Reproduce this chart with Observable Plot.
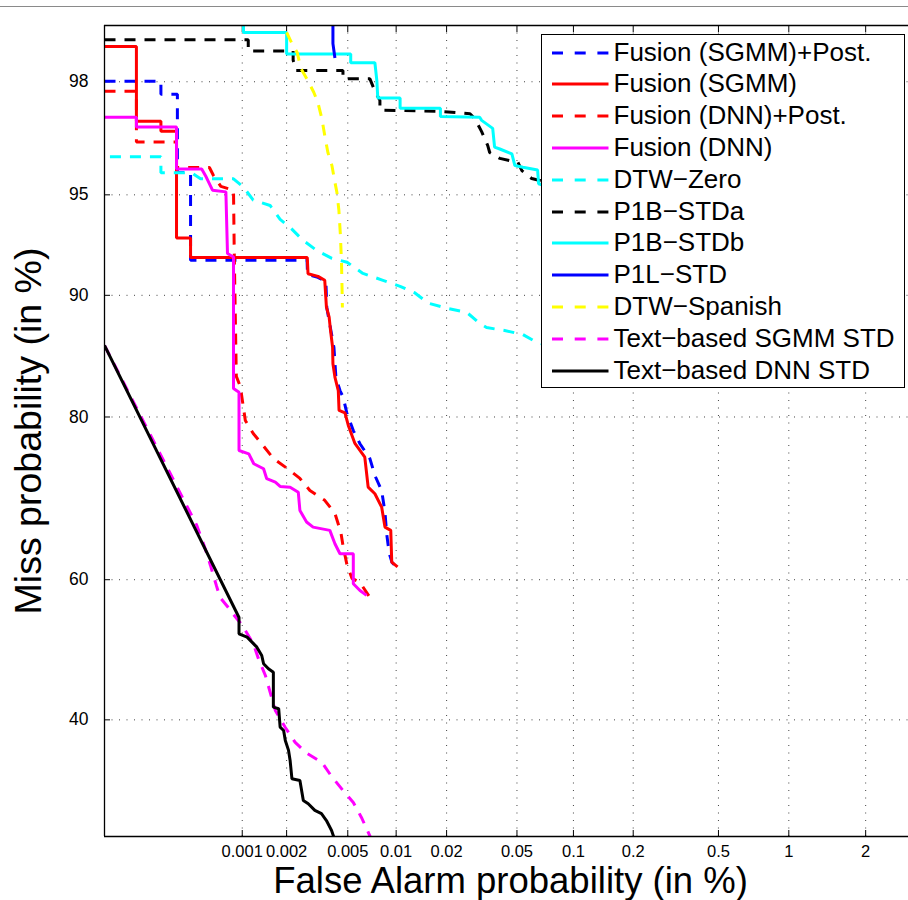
<!DOCTYPE html>
<html>
<head>
<meta charset="utf-8">
<script src="https://cdn.jsdelivr.net/npm/d3@7"></script>
<script src="https://cdn.jsdelivr.net/npm/@observablehq/plot@0.6"></script>
<style>
  body { margin: 0; background: #fff; font-family: "Liberation Sans", Arial, Helvetica, sans-serif; }
  #wrap { position: relative; width: 908px; height: 900px; overflow: hidden; background: #fff; }
  #topline { position: absolute; left: 0; top: 6px; width: 908px; height: 1px; background: #8a8a8a; }
  #legend { position: absolute; left: 541px; top: 34px; width: 364px; height: 354px; box-sizing: border-box;
            border: 1.5px solid #000; background: #fff; }
  .row { position: absolute; left: 0; height: 31.8px; width: 100%; }
  .row svg { position: absolute; left: 9.5px; top: 0; }
  .row span { position: absolute; left: 71.5px; top: 0; line-height: 31.8px; font-size: 26px; white-space: nowrap; color: #000; }
</style>
</head>
<body>
<div id="wrap">
  <div id="chart"></div>
  <div id="topline"></div>
  <div id="legend"></div>
</div>
<script>
// ---- data: [False alarm %, Miss %] ----
const fusionSgmmPost = [[0.0001,98.01],[0.000264,98.01],[0.000264,97.77],[0.000348,97.77],[0.000348,95.78],[0.000433,95.78],[0.000433,92.05],[0.00273,92.05],[0.00275,91.26],[0.00321,91.09],[0.00362,90.86],[0.00367,89.21],[0.0039,87.58],[0.00408,86.28],[0.0042,83.76],[0.00446,82.57],[0.00468,81.92],[0.00492,80.46],[0.00542,78.60],[0.00597,77.18],[0.00689,75.52],[0.0074,73.57],[0.00815,71.77],[0.00854,69.06],[0.00875,66.26],[0.00908,63.58],[0.00944,62.39],[0.0104,61.42]];
const fusionSgmm = [[0.0001,98.54],[0.000174,98.54],[0.000174,97.20],[0.000264,97.20],[0.000264,96.96],[0.000343,96.96],[0.000343,93.17],[0.000433,93.17],[0.000433,92.19],[0.00274,92.19],[0.00277,91.30],[0.00322,91.15],[0.00356,90.92],[0.00365,89.23],[0.0038,88.55],[0.00388,87.58],[0.0040,86.30],[0.00402,84.94],[0.00414,83.79],[0.00435,82.57],[0.0044,80.66],[0.0048,80.41],[0.00504,79.13],[0.00555,77.22],[0.0064,75.70],[0.00672,72.17],[0.0074,71.37],[0.00815,69.70],[0.00854,67.13],[0.00927,66.70],[0.0094,62.43],[0.0102,61.77]];
const fusionDnnPost = [[0.0001,97.83],[0.000174,97.83],[0.000174,96.68],[0.000343,96.68],[0.000343,95.94],[0.00059,95.94],[0.00063,95.68],[0.00071,95.31],[0.00087,95.17],[0.00088,92.56],[0.00091,83.85],[0.00097,82.94],[0.00105,79.65],[0.00119,78.29],[0.00139,76.99],[0.00163,75.55],[0.00202,74.39],[0.00245,73.22],[0.00285,71.77],[0.00356,70.55],[0.00414,68.90],[0.00452,66.43],[0.00466,64.70],[0.00495,61.98],[0.00532,60.18],[0.00597,59.62],[0.00689,57.50]];
const fusionDnn = [[0.0001,97.29],[0.000174,97.29],[0.000174,97.06],[0.000343,97.06],[0.000343,95.89],[0.00052,95.89],[0.00056,95.63],[0.00062,95.17],[0.00077,95.11],[0.00079,92.40],[0.00087,92.22],[0.00087,82.76],[0.00095,82.41],[0.00095,76.44],[0.00111,76.07],[0.0012,74.94],[0.0014,74.36],[0.00147,73.19],[0.00168,72.78],[0.00181,72.26],[0.00211,72.17],[0.00239,71.56],[0.00245,69.28],[0.00271,67.79],[0.00299,67.13],[0.00384,66.70],[0.00414,64.93],[0.00446,63.58],[0.00542,63.58],[0.00542,59.44],[0.00597,58.49],[0.00657,57.79]];
const dtwZero = [[0.00011,96.27],[0.000264,96.27],[0.000264,95.77],[0.00044,95.77],[0.00051,95.57],[0.00087,95.57],[0.00102,95.28],[0.00119,94.80],[0.00155,94.59],[0.00181,94.02],[0.00215,93.61],[0.00257,93.06],[0.00316,92.56],[0.00396,92.15],[0.00495,91.94],[0.00623,91.32],[0.0083,90.92],[0.01057,90.56],[0.013,90.15],[0.0156,89.49],[0.0203,89.14],[0.0262,88.87],[0.031,88.10],[0.0339,87.80],[0.0428,87.58],[0.0539,87.28],[0.064,86.68],[0.0849,86.20]];
const p1bStda = [[0.0001,98.63],[0.0011,98.63],[0.0011,98.48],[0.00221,98.48],[0.00221,98.35],[0.00231,98.19],[0.00466,98.19],[0.00466,98.05],[0.00689,98.05],[0.0074,97.83],[0.00795,97.65],[0.00795,97.45],[0.0184,97.42],[0.0273,97.37],[0.0291,97.26],[0.0318,96.95],[0.0344,96.59],[0.0353,96.39],[0.0402,96.22],[0.0506,96.10],[0.0532,95.84],[0.0601,95.58],[0.0849,95.35]];
const p1bStdb = [[0.00102,99.5],[0.00102,98.72],[0.002,98.72],[0.002,98.44],[0.00522,98.44],[0.00522,98.31],[0.0074,98.31],[0.00761,98.02],[0.00771,97.70],[0.01057,97.70],[0.01057,97.49],[0.0184,97.49],[0.0184,97.31],[0.031,97.29],[0.0318,97.22],[0.0367,97.03],[0.0376,96.54],[0.0402,96.49],[0.0469,96.35],[0.0487,96.0],[0.0539,95.95],[0.0647,95.86],[0.0655,95.40],[0.0849,95.17]];
const p1lStd = [[0.00402,99.5],[0.00402,98.58],[0.00414,98.38]];
const dtwSpanish = [[0.002,98.72],[0.00221,98.55],[0.00235,98.46],[0.00249,98.22],[0.00276,98.02],[0.00302,97.81],[0.00321,97.61],[0.00341,97.26],[0.00356,96.85],[0.00373,96.39],[0.00396,96.0],[0.00414,95.45],[0.00426,95.10],[0.00439,94.39],[0.00449,93.29],[0.00456,91.94],[0.0046,90.33],[0.00462,89.2]];
const textSgmm = [[0.0001,86.44],[0.00048,67.35],[0.00055,64.30],[0.0006,61.98],[0.00066,59.20],[0.0007,57.51],[0.0008,56.08],[0.00087,55.08],[0.00099,53.64],[0.00119,50.91],[0.00129,48.75],[0.00144,46.30],[0.00168,41.32],[0.00196,38.94],[0.00228,36.88],[0.00273,35.40],[0.00341,34.19],[0.0039,32.48],[0.00466,30.55],[0.00542,29.05],[0.0061,27.22],[0.0070,24.76]];
const textDnn = [[0.0001,86.44],[0.00095,54.65],[0.00095,52.30],[0.00108,51.82],[0.00126,50.38],[0.00136,49.18],[0.0014,47.98],[0.00151,47.26],[0.00163,46.77],[0.00163,41.78],[0.00177,41.56],[0.00181,38.98],[0.00191,38.52],[0.00196,37.15],[0.00206,35.8],[0.00211,34.45],[0.00217,32.04],[0.00245,31.82],[0.00258,29.29],[0.00278,28.89],[0.00307,28.07],[0.00339,27.67],[0.00365,26.85],[0.00394,25.68],[0.0041,24.75]];

const seriesNames = ["Fusion (SGMM)+Post.","Fusion (SGMM)","Fusion (DNN)+Post.","Fusion (DNN)","DTW\u2212Zero","P1B\u2212STDa","P1B\u2212STDb","P1L\u2212STD","DTW\u2212Spanish","Text\u2212based SGMM STD","Text\u2212based DNN STD"];
const seriesData = [fusionSgmmPost, fusionSgmm, fusionDnnPost, fusionDnn, dtwZero, p1bStda, p1bStdb, p1lStd, dtwSpanish, textSgmm, textDnn];
const seriesColors = ["#0000ff","#ff0000","#ff0000","#ff00ff","#00ffff","#000000","#00ffff","#0000ff","#ffff00","#ff00ff","#000000"];
const seriesDashed = [true,false,true,false,true,true,false,false,true,true,false];

const xTicks = [0.001,0.002,0.005,0.01,0.02,0.05,0.1,0.2,0.5,1,2];
const yTicks = [40,60,80,90,95,98];
const xDomainPct = [0.0001, 2.86];
const yDomainPct = [24.98, 98.8];

// ---- inverse normal CDF (DET axes) ----
function probit(p) {
  const a = [-3.969683028665376e+01, 2.209460984245205e+02, -2.759285104469687e+02, 1.383577518672690e+02, -3.066479806614716e+01, 2.506628277459239e+00];
  const b = [-5.447609879822406e+01, 1.615858368580409e+02, -1.556989798598866e+02, 6.680131188771972e+01, -1.328068155288572e+01];
  const c = [-7.784894002430293e-03, -3.223964580411365e-01, -2.400758277161838e+00, -2.549671348754506e+00, 4.374664141464968e+00, 2.938163982698783e+00];
  const d = [7.784695709041462e-03, 3.224671290700398e-01, 2.445134137142996e+00, 3.754408661907416e+00];
  const pl = 0.02425, ph = 1 - pl;
  let q, r;
  if (p < pl) { q = Math.sqrt(-2 * Math.log(p)); return (((((c[0]*q+c[1])*q+c[2])*q+c[3])*q+c[4])*q+c[5]) / ((((d[0]*q+d[1])*q+d[2])*q+d[3])*q+1); }
  if (p <= ph) { q = p - 0.5; r = q*q; return (((((a[0]*r+a[1])*r+a[2])*r+a[3])*r+a[4])*r+a[5])*q / (((((b[0]*r+b[1])*r+b[2])*r+b[3])*r+b[4])*r+1); }
  q = Math.sqrt(-2 * Math.log(1 - p)); return -(((((c[0]*q+c[1])*q+c[2])*q+c[3])*q+c[4])*q+c[5]) / ((((d[0]*q+d[1])*q+d[2])*q+d[3])*q+1);
}
const px = v => probit(v / 100);

const rows = [];
seriesData.forEach((arr, s) => arr.forEach(([fa, miss], i) => rows.push({s, i, fa, miss})));

const xTickPos = xTicks.map(px);
const yTickPos = yTicks.map(px);
const xLabel = new Map(xTicks.map(v => [px(v), String(v)]));
const yLabel = new Map(yTicks.map(v => [px(v), String(v)]));
const xDom = xDomainPct.map(px), yDom = yDomainPct.map(px);

const lineMarks = seriesData.map((arr, s) => Plot.line(rows.filter(r => r.s === s), {
  x: d => px(d.fa), y: d => px(d.miss),
  stroke: seriesColors[s], strokeWidth: 3,
  strokeDasharray: seriesDashed[s] ? "11,9" : null,
  strokeLinejoin: "miter", strokeLinecap: "butt",
  clip: true
}));

const chart = Plot.plot({
  width: 908, height: 900,
  marginLeft: 104, marginRight: 0, marginTop: 25, marginBottom: 64,
  x: {type: "linear", domain: xDom},
  y: {type: "linear", domain: yDom},
  style: {fontFamily: "'Liberation Sans', Arial, Helvetica, sans-serif", background: "#fff", color: "#000"},
  marks: [
    Plot.gridX(xTickPos, {stroke: "#222", strokeOpacity: 0.85, strokeDasharray: "1,6.5"}),
    Plot.gridY(yTickPos, {stroke: "#222", strokeOpacity: 0.85, strokeDasharray: "1,6.5"}),
    Plot.axisX(xTickPos, {anchor: "bottom", tickSize: 0, tickPadding: 9, fontSize: 16.5, tickFormat: d => xLabel.get(d), label: null}),
    Plot.axisX(xTickPos, {anchor: "bottom", tickSize: -6, fill: "none", label: null}),
    Plot.axisX(xTickPos, {anchor: "top", tickSize: -6, fill: "none", label: null}),
    Plot.axisY(yTickPos, {anchor: "left", tickSize: 0, tickPadding: 16, fontSize: 17.5, tickFormat: d => yLabel.get(d), label: null}),
    Plot.axisY(yTickPos, {anchor: "left", tickSize: -6, fill: "none", label: null}),
    ...lineMarks,
    Plot.ruleX([xDom[0]], {stroke: "#000", strokeWidth: 1.3}),
    Plot.ruleY([yDom[0], yDom[1]], {stroke: "#000", strokeWidth: 1.3}),
    Plot.text(["Miss probability (in %)"], {frameAnchor: "left", textAnchor: "middle", lineAnchor: "middle", rotate: -90, dx: -76, fontSize: 37.5, text: d => d}),
    Plot.text(["False Alarm probability (in %)"], {frameAnchor: "bottom", textAnchor: "middle", lineAnchor: "middle", dy: 44.5, dx: 4, fontSize: 36.5, text: d => d})
  ]
});
document.getElementById("chart").appendChild(chart);

// ---- legend ----
const legend = document.getElementById("legend");
seriesNames.forEach((name, s) => {
  const row = document.createElement("div");
  row.className = "row";
  row.style.top = (1.6 + 31.8 * s) + "px";
  const dash = seriesDashed[s] ? ' stroke-dasharray="11,11.7"' : "";
  row.innerHTML = `<svg width="57" height="32"><line x1="0" x2="56.5" y1="16" y2="16" stroke="${seriesColors[s]}" stroke-width="3"${dash}/></svg><span>${name}</span>`;
  legend.appendChild(row);
});
</script>
</body>
</html>
